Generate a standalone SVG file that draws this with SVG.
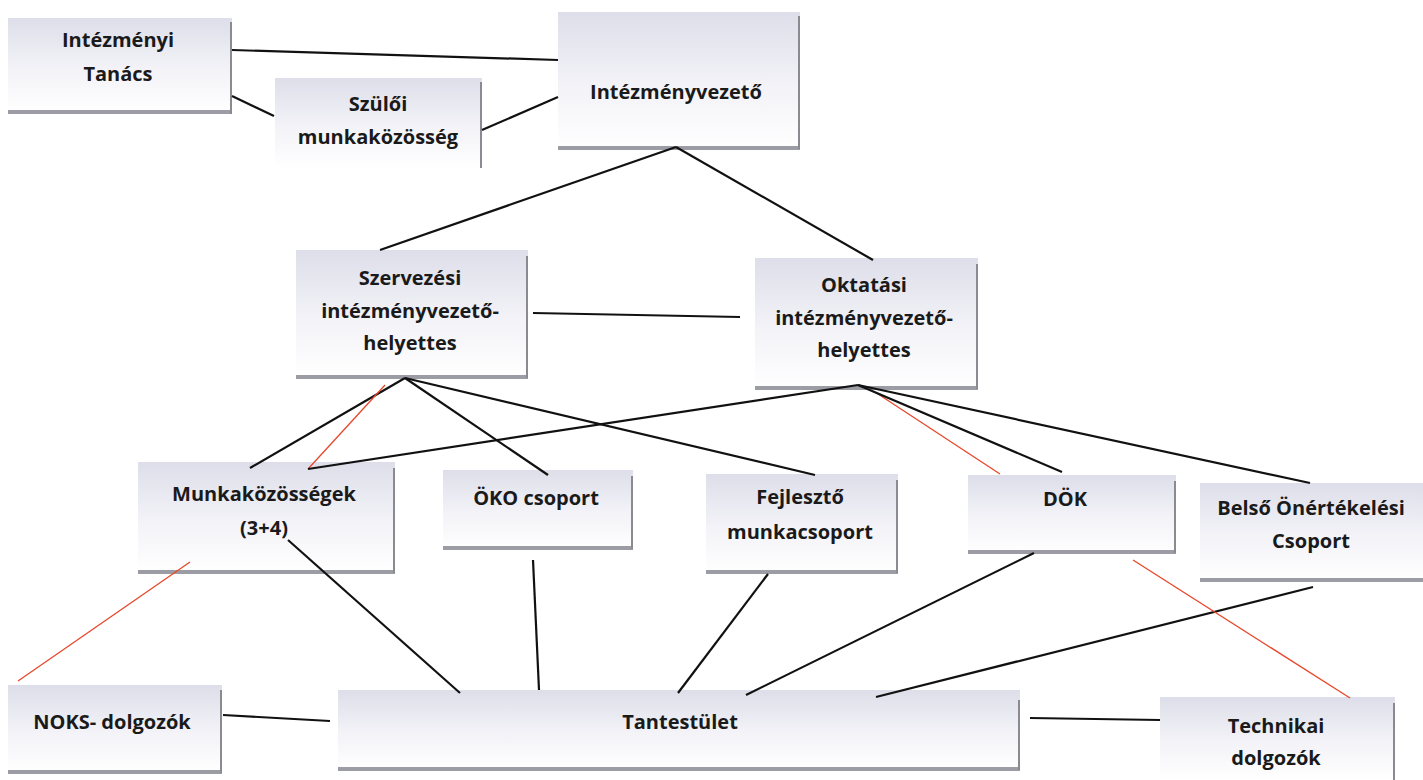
<svg xmlns="http://www.w3.org/2000/svg" width="1423" height="780" viewBox="0 0 1423 780">
<defs>
<linearGradient id="g" x1="0" y1="0" x2="0" y2="1">
<stop offset="0" stop-color="#dedeea"/>
<stop offset="0.55" stop-color="#f3f3f8"/>
<stop offset="1" stop-color="#ffffff"/>
</linearGradient>
<style>
.box{fill:url(#g);stroke:none}
.sh{fill:#9c9ca4}
.sr{fill:#8a8a90}
text{font-family:"Open Sans","Liberation Sans",sans-serif;font-weight:bold;font-size:20px;fill:#1a1a1a;text-anchor:middle}
.k{stroke:#111;stroke-width:2.2;fill:none}
.r{stroke:#e8472a;stroke-width:1.3;fill:none}
</style>
</defs>
<rect width="1423" height="780" fill="#ffffff"/>

<g id="n-intezmenyi-tanacs">
<rect class="box" x="8" y="18" width="224" height="95"/>
<rect class="sh" x="8" y="110" width="224" height="4"/>
<rect class="sr" x="230" y="22" width="2" height="92"/>
<text x="118" y="47">Intézményi</text>
<text x="118" y="81">Tanács</text>
</g>

<g id="n-szuloi">
<rect class="box" x="275" y="78" width="207" height="90"/>
<rect class="sr" x="480" y="82" width="2" height="86"/>
<text x="378" y="111">Szülői</text>
<text x="378" y="144">munkaközösség</text>
</g>

<g id="n-intezmenyvezeto">
<rect class="box" x="558" y="12" width="242" height="137"/>
<rect class="sh" x="558" y="146" width="242" height="4"/>
<rect class="sr" x="798" y="16" width="2" height="133"/>
<text x="676" y="99">Intézményvezető</text>
</g>

<g id="n-szervezesi">
<rect class="box" x="296" y="250" width="232" height="128"/>
<rect class="sh" x="296" y="375" width="232" height="4"/>
<rect class="sr" x="526" y="256" width="2" height="122"/>
<text x="410" y="285">Szervezési</text>
<text x="410" y="318">intézményvezető-</text>
<text x="410" y="350">helyettes</text>
</g>

<g id="n-oktatasi">
<rect class="box" x="755" y="258" width="223" height="131"/>
<rect class="sh" x="755" y="386" width="223" height="4"/>
<rect class="sr" x="976" y="264" width="2" height="125"/>
<text x="864" y="292">Oktatási</text>
<text x="864" y="325">intézményvezető-</text>
<text x="864" y="357">helyettes</text>
</g>

<g id="n-munkakozossegek">
<rect class="box" x="138" y="462" width="257" height="111"/>
<rect class="sh" x="138" y="570" width="257" height="4"/>
<rect class="sr" x="393" y="468" width="2" height="105"/>
<text x="264" y="501">Munkaközösségek</text>
<text x="264" y="535">(3+4)</text>
</g>

<g id="n-oko">
<rect class="box" x="443" y="470" width="190" height="79"/>
<rect class="sh" x="443" y="546" width="190" height="4"/>
<rect class="sr" x="631" y="476" width="2" height="73"/>
<text x="536" y="505">ÖKO csoport</text>
</g>

<g id="n-fejleszto">
<rect class="box" x="706" y="474" width="192" height="99"/>
<rect class="sh" x="706" y="570" width="192" height="4"/>
<rect class="sr" x="896" y="480" width="2" height="93"/>
<text x="800" y="504">Fejlesztő</text>
<text x="800" y="539">munkacsoport</text>
</g>

<g id="n-dok">
<rect class="box" x="968" y="475" width="208" height="78"/>
<rect class="sh" x="968" y="550" width="208" height="4"/>
<rect class="sr" x="1174" y="481" width="2" height="72"/>
<text x="1065" y="506">DÖK</text>
</g>

<g id="n-belso">
<rect class="box" x="1200" y="483" width="223" height="98"/>
<rect class="sh" x="1200" y="578" width="223" height="4"/>
<text x="1311" y="515">Belső Önértékelési</text>
<text x="1311" y="548">Csoport</text>
</g>

<g id="n-noks">
<rect class="box" x="8" y="685" width="214" height="88"/>
<rect class="sh" x="8" y="770" width="214" height="4"/>
<rect class="sr" x="220" y="690" width="2" height="83"/>
<text x="112" y="729">NOKS- dolgozók</text>
</g>

<g id="n-tantestulet">
<rect class="box" x="338" y="690" width="682" height="80"/>
<rect class="sh" x="338" y="767" width="682" height="4"/>
<rect class="sr" x="1018" y="700" width="2" height="70"/>
<text x="680" y="729">Tantestület</text>
</g>

<g id="n-technikai">
<rect class="box" x="1160" y="697" width="235" height="83"/>
<rect class="sr" x="1393" y="703" width="2" height="77"/>
<text x="1276" y="733">Technikai</text>
<text x="1276" y="765">dolgozók</text>
</g>

<g id="connectors">
<line class="k" x1="232" y1="50" x2="558" y2="60"/>
<line class="k" x1="232" y1="96" x2="274" y2="116"/>
<line class="k" x1="482" y1="130" x2="558" y2="97"/>
<line class="k" x1="676" y1="147" x2="380" y2="250"/>
<line class="k" x1="676" y1="147" x2="873" y2="260"/>
<line class="k" x1="533" y1="313" x2="740" y2="317"/>
<line class="k" x1="405" y1="378" x2="250" y2="468"/>
<line class="k" x1="405" y1="378" x2="548" y2="475"/>
<line class="k" x1="405" y1="378" x2="815" y2="475"/>
<line class="r" x1="385" y1="385" x2="308" y2="469"/>
<line class="k" x1="858" y1="385" x2="308" y2="469"/>
<line class="r" x1="875" y1="392" x2="1000" y2="474"/>
<line class="k" x1="858" y1="385" x2="1062" y2="472"/>
<line class="k" x1="858" y1="385" x2="1310" y2="483"/>
<line class="k" x1="288" y1="540" x2="460" y2="693"/>
<line class="k" x1="533" y1="560" x2="539" y2="690"/>
<line class="k" x1="768" y1="574" x2="678" y2="693"/>
<line class="k" x1="1034" y1="553" x2="746" y2="695"/>
<line class="k" x1="1313" y1="587" x2="876" y2="697"/>
<line class="r" x1="190" y1="562" x2="18" y2="681"/>
<line class="r" x1="1133" y1="560" x2="1350" y2="698"/>
<line class="k" x1="223" y1="715" x2="330" y2="721"/>
<line class="k" x1="1030" y1="718" x2="1160" y2="720"/>
</g>
</svg>
